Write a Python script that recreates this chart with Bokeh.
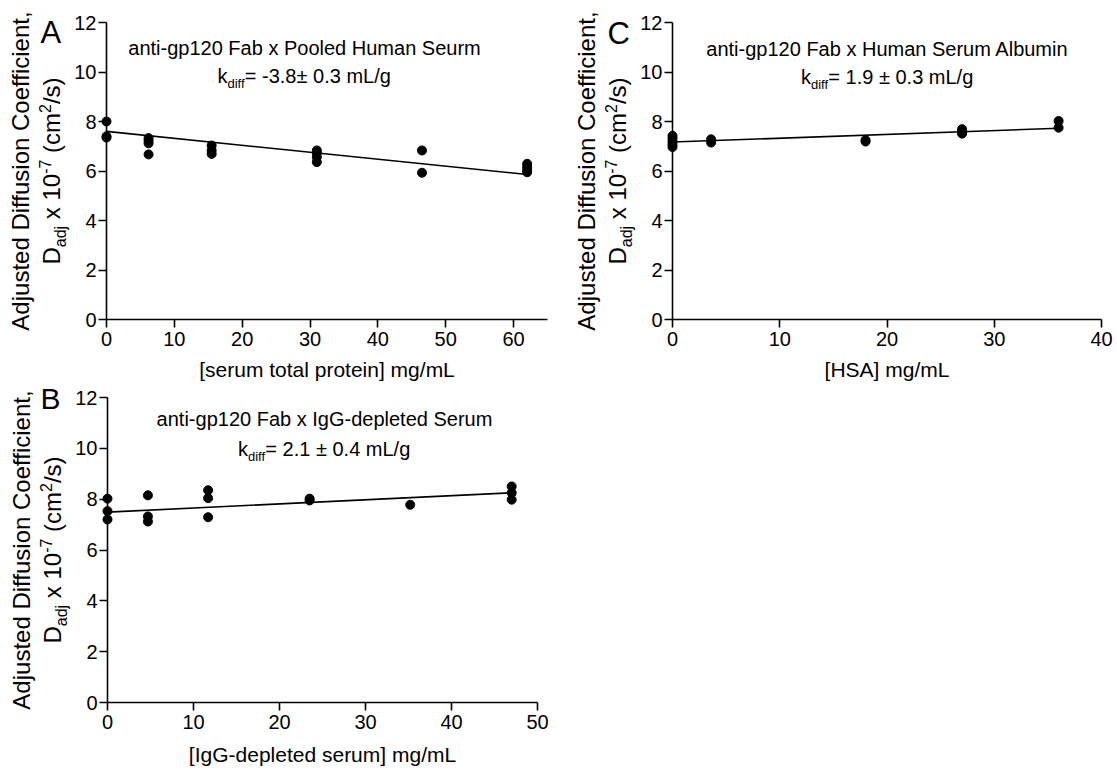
import numpy as np
from bokeh.plotting import figure
from bokeh.models import Range1d, FixedTicker
from bokeh.core.properties import value
from bokeh.layouts import column, row
from bokeh.embed import file_html
from bokeh.resources import INLINE

FONT = "Liberation Sans"

# ---------------- data ----------------
# Panel A: anti-gp120 Fab x Pooled Human Serum
a_x = [0, 0, 0, 6.2, 6.2, 6.2, 6.2, 15.5, 15.5, 15.5, 31, 31, 31, 31, 46.5, 46.5, 62, 62, 62, 62]
a_y = [8.00, 7.40, 7.35, 7.33, 7.23, 7.12, 6.67, 7.03, 6.83, 6.69, 6.83, 6.72, 6.56, 6.36, 6.83, 5.93,
       6.29, 6.15, 6.02, 5.95]
a_fit = (7.60, -0.0281)   # intercept, slope
a_xmax, a_xstep = 65, 10
a_title = "anti-gp120 Fab x Pooled Human Seurm"
a_kdiff = "= -3.8\u00b1 0.3 mL/g"
a_xlabel = "[serum total protein] mg/mL"

# Panel B: anti-gp120 Fab x IgG-depleted Serum
b_x = [0, 0, 0, 4.7, 4.7, 4.7, 11.7, 11.7, 11.7, 23.5, 23.5, 35.2, 47, 47, 47]
b_y = [8.02, 7.53, 7.20, 8.15, 7.32, 7.12, 8.35, 8.04, 7.29, 8.02, 7.95, 7.78, 8.50, 8.25, 7.98]
b_fit = (7.49, 0.0162)
b_xmax, b_xstep = 50, 10
b_title = "anti-gp120 Fab x IgG-depleted Serum"
b_kdiff = "= 2.1 \u00b1 0.4 mL/g"
b_xlabel = "[IgG-depleted serum] mg/mL"

# Panel C: anti-gp120 Fab x Human Serum Albumin
c_x = [0, 0, 0, 0, 0, 3.6, 3.6, 18, 18, 27, 27, 27, 36, 36]
c_y = [7.42, 7.31, 7.19, 7.08, 6.97, 7.28, 7.15, 7.25, 7.19, 7.69, 7.59, 7.51, 8.02, 7.75]
c_fit = (7.17, 0.0155)
c_xmax, c_xstep = 40, 10
c_title = "anti-gp120 Fab x Human Serum Albumin"
c_kdiff = "= 1.9 \u00b1 0.3 mL/g"
c_xlabel = "[HSA] mg/mL"

y_max, y_step = 12, 2
ylab1 = "Adjusted Diffusion Coefficient,"
ylab2 = [("D", "n"), ("adj", "sub"), (" x 10", "n"), ("-7", "sup"), (" (cm", "n"), ("2", "sup"), ("/s)", "n")]

# Arial / Liberation Sans advance widths (em)
W = {' ': .278, '(': .333, ')': .333, ',': .278, '-': .333, '.': .278, '/': .278, '=': .584,
     '\u00b1': .584, '[': .278, ']': .278, 'A': .667, 'B': .667, 'C': .722, 'D': .722, 'F': .611,
     'G': .778, 'H': .722, 'I': .278, 'L': .556, 'P': .667, 'S': .667, 'a': .556, 'b': .556,
     'c': .5, 'd': .556, 'e': .556, 'f': .278, 'g': .556, 'h': .556, 'i': .222, 'j': .222,
     'k': .5, 'l': .222, 'm': .833, 'n': .556, 'o': .556, 'p': .556, 'r': .333, 's': .5,
     't': .278, 'u': .556, 'x': .5}

FIX = 0.37  # observed offset of the rendered baseline (em)


def tw(s, fs):
    return sum(W.get(c, 0.556) for c in s) * fs


class Panel:
    def __init__(self, fig_left, fig_top, fig_w, fig_h, ax_left, ax_right, ax_top, ax_bottom,
                 xmax, xstep):
        self.sx = (ax_right - ax_left) / xmax
        self.sy = (ax_bottom - ax_top) / y_max
        self.ax_left, self.ax_right, self.ax_top, self.ax_bottom = ax_left, ax_right, ax_top, ax_bottom
        p = figure(width=fig_w, height=fig_h,
                   x_range=Range1d(0, xmax), y_range=Range1d(0, y_max),
                   output_backend="svg", toolbar_location=None,
                   min_border_left=ax_left - fig_left,
                   min_border_right=fig_left + fig_w - ax_right,
                   min_border_top=ax_top - fig_top,
                   min_border_bottom=fig_top + fig_h - ax_bottom)
        p.outline_line_color = None
        p.grid.visible = False
        p.background_fill_color = "white"
        p.border_fill_color = "white"
        p.xaxis.ticker = FixedTicker(ticks=list(range(0, xmax + 1, xstep)))
        p.yaxis.ticker = FixedTicker(ticks=list(range(0, y_max + 1, y_step)))
        for ax in (p.xaxis, p.yaxis):
            ax.axis_line_width = 1.6
            ax.axis_line_color = "black"
            ax.major_tick_line_width = 1.6
            ax.major_tick_line_color = "black"
            ax.major_tick_in = 0
            ax.major_tick_out = 8
            ax.minor_tick_line_color = None
            ax.major_label_text_font = FONT
            ax.major_label_text_font_size = "20px"
            ax.major_label_text_color = "black"
        p.xaxis.major_label_standoff = 4
        p.yaxis.major_label_standoff = 2
        self.p = p

    def dx(self, px):
        return (px - self.ax_left) / self.sx

    def dy(self, py):
        return (self.ax_bottom - py) / self.sy

    def label(self, px, py, text, size, angle=0.0, align="left"):
        if angle == 0:
            py = py - FIX * size
        else:
            px = px - FIX * size
        self.p.text(x=[self.dx(px)], y=[self.dy(py)], text=[text],
                    text_font=value(FONT), text_font_size=value(f"{size}px"),
                    text_color="black", text_align=align, text_baseline="alphabetic",
                    angle=angle, level="overlay")

    def rich(self, segs, center, base, size, vertical=False):
        sub_fs = round(size * 0.66)
        ws = [tw(t, size if k == "n" else sub_fs) for t, k in segs]
        total = sum(ws)
        acc = 0.0
        for (t, k), w in zip(segs, ws):
            fs = size if k == "n" else sub_fs
            shift = {"n": 0.0, "sub": 0.25 * size, "sup": -0.42 * size}[k]
            s = t.lstrip(" ")
            lead = tw(t[:len(t) - len(s)], fs)
            if not vertical:
                self.label(center - total / 2 + acc + lead, base + shift, s, fs)
            else:
                self.label(base + shift, center + total / 2 - acc - lead, s, fs, angle=np.pi / 2)
            acc += w

    def draw(self, xs, ys, fit):
        self.p.scatter(xs, ys, size=9, color="black", level="overlay")
        lx = np.array([0.0, max(xs)])
        self.p.line(lx, fit[0] + fit[1] * lx, line_color="black", line_width=1.6)

    def decorate(self, letter, letter_x, letter_base, letter_size, title, kdiff, t_cx, t_base1,
                 t_base2, xlabel, xl_base):
        self.label(letter_x, letter_base, letter, letter_size)
        self.label(t_cx, t_base1, title, 20, align="center")
        self.rich([("k", "n"), ("diff", "sub"), (kdiff, "n")], t_cx, t_base2, 20)
        cx = (self.ax_left + self.ax_right) / 2
        self.label(cx, xl_base, xlabel, 21, align="center")
        cy = (self.ax_top + self.ax_bottom) / 2
        self.label(self.ax_left - 77, cy, ylab1, 24, angle=np.pi / 2, align="center")
        self.rich(ylab2, cy, self.ax_left - 46, 24, vertical=True)


# Panel A (top-left)
A = Panel(0, 0, 568, 381, 106, 547, 22, 319, a_xmax, a_xstep)
A.draw(a_x, a_y, a_fit)
A.decorate("A", 40, 43, 31, a_title, a_kdiff, 304, 55, 83, a_xlabel, 376.5)

# Panel C (top-right)
C = Panel(568, 0, 545, 381, 672, 1101, 22, 319, c_xmax, c_xstep)
C.draw(c_x, c_y, c_fit)
C.decorate("C", 607, 44, 31, c_title, c_kdiff, 887, 56, 84, c_xlabel, 376.5)

# Panel B (bottom-left)
B = Panel(0, 381, 568, 388, 107, 537, 397, 702, b_xmax, b_xstep)
B.draw(b_x, b_y, b_fit)
B.decorate("B", 40, 409, 30, b_title, b_kdiff, 324, 426, 456, b_xlabel, 762)

layout = column(row(A.p, C.p), B.p)
open("out.html", "w").write(file_html(layout, INLINE))
